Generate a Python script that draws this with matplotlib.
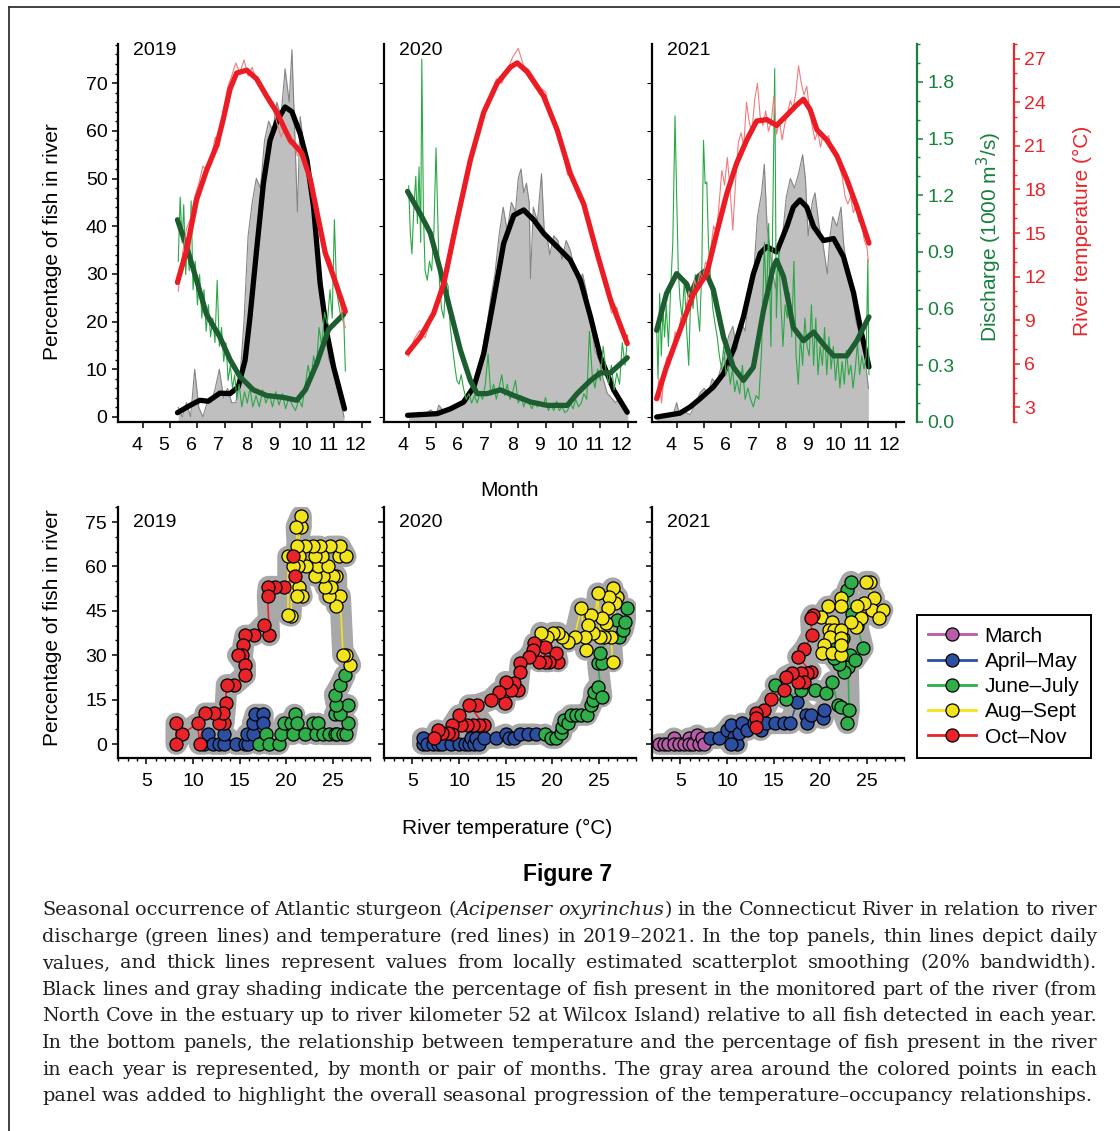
import matplotlib
matplotlib.use('Agg')
import matplotlib.pyplot as plt
from matplotlib.lines import Line2D
from matplotlib.ticker import MultipleLocator
from matplotlib.transforms import ScaledTranslation

plt.rcParams['font.family'] = ['Liberation Sans', 'DejaVu Sans']

W, H = 1120, 1131
YEARS = ['2019', '2020', '2021']

# ---------- top panels: percentage of fish, discharge, temperature by month ----------
# thick (smoothed) percentage of fish
fish_smooth_m = {
    '2019': [5.27, 5.72, 6.09, 6.39, 6.82, 7.19, 7.49, 7.74, 7.92, 8.16, 8.41, 8.65, 8.90, 9.20,
             9.45, 9.75, 10.0, 10.24, 10.48, 10.73, 10.97, 11.37],
    '2020': [3.96, 5.04, 5.52, 6.0, 6.38, 6.74, 7.1, 7.47, 7.84, 8.2, 8.57, 8.93, 9.42, 9.9,
             10.27, 10.64, 11.0, 11.49, 11.98],
    '2021': [3.27, 4.12, 4.49, 4.85, 5.34, 5.71, 6.07, 6.44, 6.8, 7.05, 7.29, 7.65, 8.02, 8.26,
             8.5, 8.75, 9.0, 9.36, 9.73, 10.09, 10.46, 10.7, 11.02],
}
fish_smooth = {
    '2019': [0.9, 2.4, 3.5, 3.3, 5.0, 4.9, 6.3, 11.9, 21, 35, 49, 58, 62, 65, 64, 59.4, 53.8,
             44, 28, 17.5, 10.5, 1.7],
    '2020': [0.35, 0.7, 1.7, 3.1, 6.3, 13.3, 24.5, 36.4, 42.3, 43.4, 41.3, 38.5, 35.7, 32.9,
             28.7, 21, 12.6, 5.6, 1.0],
    '2021': [0, 0.8, 2.1, 3.8, 6.3, 9.1, 14, 21, 30, 34.3, 35.7, 34.6, 39.9, 44, 45.5, 44,
             39.9, 37, 37.4, 33.6, 26, 18.9, 10.5],
}
# daily percentage of fish (gray)
fish_daily_m = {
    '2019': [5.30, 5.45, 5.60, 5.75, 5.90, 6.05, 6.20, 6.35, 6.50, 6.65, 6.80, 6.95, 7.10, 7.25,
             7.40, 7.55, 7.70, 7.85, 8.00, 8.15, 8.30, 8.45, 8.60, 8.75, 8.90, 9.05, 9.20, 9.35,
             9.45, 9.55, 9.65, 9.75, 9.90, 10.05, 10.20, 10.35, 10.50, 10.65, 10.80, 10.95,
             11.10, 11.25, 11.35],
    '2020': [4.0, 4.2, 4.4, 4.6, 4.8, 5.0, 5.1, 5.3, 5.5, 5.7, 5.9, 6.1, 6.3, 6.45, 6.6, 6.75,
             6.85, 7.0, 7.15, 7.3, 7.45, 7.6, 7.75, 7.9, 8.0, 8.1, 8.2, 8.3, 8.4, 8.45, 8.55, 8.7,
             8.85, 8.95, 9.05, 9.15, 9.3, 9.45, 9.6, 9.75, 9.9, 10.05, 10.2, 10.35, 10.5, 10.65,
             10.8, 10.95, 11.1, 11.25, 11.4, 11.55, 11.7, 11.85, 12.0],
    '2021': [3.27, 3.5, 3.7, 3.9, 4.0, 4.1, 4.3, 4.5, 4.7, 4.85, 5.0, 5.15, 5.3, 5.45, 5.6,
             5.75, 5.9, 6.05, 6.2, 6.35, 6.5, 6.65, 6.8, 6.95, 7.1, 7.2, 7.3, 7.45, 7.6, 7.75,
             7.9, 8.0, 8.15, 8.3, 8.45, 8.6, 8.7, 8.8, 8.95, 9.05, 9.2, 9.35, 9.5, 9.6, 9.7,
             9.85, 10.0, 10.1, 10.25, 10.4, 10.55, 10.7, 10.85, 11.0],
}
fish_daily = {
    '2019': [2, 0, 3, 0, 10, 2, 0, 3, 3, 6, 10, 4, 6, 3, 3, 8, 20, 38, 45, 50, 48, 58, 62, 60,
             66, 63, 73, 66, 77, 60, 43, 63, 56, 53, 45, 36, 28, 20, 12, 10, 6, 3, 0],
    '2020': [0, 0.5, 1, 0.5, 1.5, 0.5, 2.5, 1, 1.5, 2, 2.5, 3, 5, 7, 9, 16, 19, 25, 30, 38, 44,
             39, 45, 43, 50, 52, 47, 49, 45, 29, 44, 41, 51, 39, 38, 34, 38, 37, 33, 37, 35, 31,
             28, 30, 26, 20, 14, 12, 8, 5, 4, 3, 4, 2, 1],
    '2021': [0, 0.5, 0, 1, 3, 0.5, 1, 0.5, 3, 5, 6, 5, 8, 7, 10, 13, 17, 19, 14, 20, 18, 26,
             29, 42, 47, 53, 40, 33, 27, 34, 40, 46, 50, 48, 51, 55, 50, 38, 45, 47, 40, 36, 30,
             38, 42, 40, 44, 36, 30, 26, 20, 17, 14, 6],
}
# thick (smoothed) river temperature, deg C
temp_smooth_m = {
    '2019': [5.27, 5.6, 5.97, 6.33, 6.70, 6.94, 7.19, 7.43, 7.80, 8.16, 8.53, 8.90, 9.2, 9.38,
             9.81, 10.12, 10.42, 10.67, 10.97, 11.4],
    '2020': [3.96, 4.43, 4.91, 5.28, 5.77, 6.25, 6.74, 7.23, 7.71, 7.96, 8.32, 8.93, 9.42, 9.9,
             10.39, 10.88, 11.37, 11.98],
    '2021': [3.27, 3.63, 4.12, 4.61, 5.1, 5.46, 5.83, 6.19, 6.56, 6.92, 7.29, 7.65, 8.02, 8.38,
             8.63, 8.87, 9.12, 9.48, 9.85, 10.21, 10.58, 11.02],
}
temp_smooth = {
    '2019': [11.6, 13.8, 17.3, 19.3, 21.0, 22.8, 24.9, 26.0, 26.2, 25.6, 24.4, 23.3, 22.1,
             21.4, 20.5, 18.7, 15.9, 13.6, 12.0, 9.6],
    '2020': [6.75, 7.85, 9.46, 11.5, 15.9, 20.0, 23.3, 25.3, 26.4, 26.7, 26.1, 24.4, 22.1,
             19.1, 17.0, 13.6, 10.4, 7.4],
    '2021': [3.6, 5.8, 8.3, 10.8, 12.2, 15, 17.7, 19.8, 21.4, 22.7, 22.8, 22.4, 23.1, 23.8,
             24.2, 23.5, 22.1, 21.4, 20.3, 18.7, 16.8, 14.3],
}
# daily river temperature, deg C
temp_daily_m = {
    '2019': [5.3, 5.45, 5.6, 5.75, 5.9, 6.05, 6.2, 6.35, 6.5, 6.65, 6.8, 6.95, 7.1, 7.25, 7.4,
             7.55, 7.7, 7.85, 8.0, 8.15, 8.3, 8.45, 8.6, 8.75, 8.9, 9.05, 9.2, 9.35, 9.5, 9.65,
             9.8, 9.95, 10.1, 10.25, 10.4, 10.55, 10.7, 10.85, 11.0, 11.15, 11.3, 11.4],
    '2020': [4.0, 4.2, 4.4, 4.6, 4.8, 5.0, 5.2, 5.4, 5.6, 5.8, 6.0, 6.2, 6.4, 6.6, 6.8, 7.0,
             7.2, 7.4, 7.6, 7.8, 8.0, 8.2, 8.4, 8.6, 8.8, 9.0, 9.2, 9.4, 9.6, 9.8, 10.0, 10.2,
             10.4, 10.6, 10.8, 11.0, 11.2, 11.4, 11.6, 11.8, 12.0],
    '2021': [3.27, 3.35, 3.45, 3.55, 3.65, 3.75, 3.85, 3.95, 4.05, 4.15, 4.25, 4.35, 4.45, 4.55,
             4.65, 4.75, 4.85, 4.95, 5.05, 5.15, 5.25, 5.35, 5.45, 5.55, 5.65, 5.75, 5.85, 5.95,
             6.05, 6.15, 6.25, 6.35, 6.45, 6.55, 6.65, 6.75, 6.85, 6.95, 7.05, 7.15, 7.25, 7.35,
             7.45, 7.55, 7.65, 7.75, 7.85, 7.95, 8.05, 8.15, 8.25, 8.35, 8.45, 8.55, 8.65, 8.75,
             8.85, 8.95, 9.05, 9.15, 9.25, 9.35, 9.45, 9.55, 9.65, 9.75, 9.85, 9.95, 10.05,
             10.15, 10.25, 10.35, 10.45, 10.55, 10.65, 10.75, 10.85, 10.95, 11.0],
}
temp_daily = {
    '2019': [11.0, 13.5, 15.3, 16.0, 17.5, 18.4, 19.6, 19.3, 20.2, 21.6, 21.0, 23.5, 25.0,
             25.8, 26.7, 26.0, 26.9, 25.8, 26.4, 25.4, 25.0, 24.8, 23.9, 23.6, 22.6, 21.6, 22.3,
             21.1, 21.4, 20.3, 20.8, 19.6, 18.9, 17.5, 15.8, 15.2, 13.7, 13.2, 12.0, 11.4, 9.0,
             8.5],
    '2020': [6.5, 7.7, 8.3, 7.8, 9.0, 9.6, 11.3, 13.0, 15.0, 16.5, 18.3, 19.8, 21.4, 22.3,
             23.8, 24.2, 25.6, 25.3, 26.2, 27.1, 27.7, 26.5, 26.2, 25.6, 25.0, 24.7, 23.0, 22.5,
             20.8, 19.0, 18.9, 17.4, 17.1, 15.4, 14.2, 13.2, 11.7, 9.5, 9.9, 8.2, 7.8],
    '2021': [3.5, 5.0, 3.3, 5.5, 6.5, 5.9, 7.0, 8.2, 7.6, 9.2, 8.6, 10.0, 11.0, 10.5, 11.8,
             11.2, 12.3, 11.8, 13.0, 12.8, 14.0, 15.5, 15.0, 17.0, 19.3, 18.3, 20.2, 18.0, 15.2,
             18.5, 21.2, 21.9, 21.0, 24.0, 22.6, 22.0, 24.2, 25.3, 23.0, 22.4, 23.4, 22.0, 22.6,
             24.4, 21.8, 22.8, 21.4, 22.5, 23.3, 24.1, 23.6, 24.6, 26.5, 25.3, 24.5, 25.1, 23.5,
             22.3, 21.4, 22.0, 20.9, 21.8, 21.4, 21.7, 20.6, 20.9, 20.3, 19.5, 18.8, 17.5, 17.0,
             17.5, 16.4, 16.9, 15.8, 15.7, 14.5, 14.0, 13.0],
}
# thick (smoothed) discharge, 1000 m3/s
flow_smooth_m = {
    '2019': [5.27, 5.6, 5.97, 6.33, 6.82, 7.19, 7.55, 8.04, 8.53, 9.14, 9.63, 9.94, 10.36,
             10.79, 11.34],
    '2020': [3.96, 4.43, 4.79, 5.16, 5.52, 5.89, 6.25, 6.5, 6.86, 7.35, 7.84, 8.45, 9.06, 9.79,
             10.15, 10.64, 11.0, 11.37, 11.98],
    '2021': [3.27, 3.63, 4.0, 4.37, 4.49, 4.79, 5.04, 5.34, 5.71, 6.07, 6.44, 6.8, 7.17, 7.53,
             7.65, 7.9, 8.26, 8.63, 9.0, 9.36, 9.73, 10.21, 10.58, 11.02],
}
flow_smooth = {
    '2019': [1.07, 0.93, 0.75, 0.57, 0.45, 0.33, 0.24, 0.17, 0.14, 0.13, 0.115, 0.17, 0.31,
             0.49, 0.57],
    '2020': [1.22, 1.10, 1.0, 0.80, 0.59, 0.38, 0.22, 0.15, 0.15, 0.17, 0.14, 0.106, 0.088,
             0.088, 0.15, 0.22, 0.26, 0.26, 0.34],
    '2021': [0.485, 0.68, 0.785, 0.73, 0.67, 0.77, 0.80, 0.70, 0.45, 0.29, 0.22, 0.29, 0.59,
             0.82, 0.856, 0.77, 0.50, 0.43, 0.476, 0.41, 0.35, 0.35, 0.43, 0.556],
}
# daily discharge, 1000 m3/s
flow_daily_m = {
    '2019': [5.30, 5.37, 5.44, 5.50, 5.57, 5.63, 5.70, 5.77, 5.84, 5.92, 6.00, 6.08, 6.16, 6.24,
             6.32, 6.40, 6.48, 6.56, 6.64, 6.72, 6.80, 6.88, 6.96, 7.04, 7.12, 7.20, 7.28, 7.36,
             7.44, 7.52, 7.62, 7.72, 7.82, 7.92, 8.02, 8.14, 8.26, 8.38, 8.50, 8.62, 8.74, 8.86,
             8.98, 9.10, 9.22, 9.34, 9.46, 9.58, 9.70, 9.82, 9.94, 10.04, 10.14, 10.24, 10.34,
             10.44, 10.54, 10.64, 10.74, 10.84, 10.92, 11.00, 11.08, 11.16, 11.24, 11.32, 11.40],
    '2020': [4.00, 4.06, 4.12, 4.18, 4.26, 4.32, 4.38, 4.44, 4.48, 4.54, 4.60, 4.68, 4.76, 4.84,
             4.92, 5.00, 5.06, 5.12, 5.20, 5.28, 5.36, 5.44, 5.52, 5.60, 5.68, 5.76, 5.84, 5.92,
             6.00, 6.10, 6.20, 6.30, 6.40, 6.50, 6.60, 6.70, 6.80, 6.90, 7.00, 7.10, 7.20, 7.30,
             7.40, 7.50, 7.60, 7.70, 7.80, 7.90, 8.00, 8.10, 8.20, 8.30, 8.40, 8.50, 8.60, 8.70,
             8.80, 8.90, 9.00, 9.10, 9.20, 9.30, 9.40, 9.50, 9.60, 9.70, 9.80, 9.90, 10.00,
             10.10, 10.20, 10.30, 10.40, 10.50, 10.60, 10.70, 10.80, 10.90, 11.00, 11.10, 11.20,
             11.30, 11.40, 11.50, 11.60, 11.70, 11.80, 11.90, 12.00],
    '2021': [3.27, 3.32, 3.38, 3.44, 3.50, 3.56, 3.62, 3.70, 3.78, 3.86, 3.94, 4.00, 4.06, 4.12,
             4.20, 4.28, 4.36, 4.44, 4.52, 4.60, 4.68, 4.76, 4.84, 4.92, 4.98, 5.04, 5.10, 5.16,
             5.24, 5.32, 5.40, 5.48, 5.56, 5.64, 5.72, 5.80, 5.88, 5.96, 6.04, 6.12, 6.20, 6.30,
             6.40, 6.50, 6.60, 6.70, 6.80, 6.90, 7.00, 7.10, 7.20, 7.28, 7.36, 7.44, 7.52, 7.58,
             7.64, 7.72, 7.80, 7.88, 7.96, 8.04, 8.12, 8.20, 8.28, 8.36, 8.44, 8.52, 8.60, 8.68,
             8.76, 8.84, 8.92, 9.00, 9.08, 9.16, 9.24, 9.32, 9.40, 9.48, 9.56, 9.64, 9.72, 9.80,
             9.88, 9.96, 10.04, 10.12, 10.20, 10.28, 10.36, 10.44, 10.52, 10.60, 10.68, 10.76,
             10.84, 10.92, 10.98, 11.02],
}
flow_daily = {
    '2019': [0.85, 1.19, 0.95, 1.15, 0.78, 0.95, 0.80, 1.17, 0.70, 0.85, 0.62, 0.78, 0.55, 0.70,
             0.48, 0.62, 0.45, 0.55, 0.42, 0.75, 0.40, 0.50, 0.32, 0.42, 0.22, 0.30, 0.18, 0.25,
             0.12, 0.20, 0.08, 0.16, 0.10, 0.18, 0.08, 0.14, 0.08, 0.17, 0.10, 0.15, 0.08, 0.16,
             0.09, 0.15, 0.07, 0.13, 0.09, 0.06, 0.12, 0.08, 0.20, 0.30, 0.22, 0.35, 0.28, 0.50,
             0.40, 0.58, 0.52, 0.70, 0.55, 1.07, 0.70, 0.62, 0.55, 0.65, 0.27],
    '2020': [1.25, 1.00, 0.89, 1.10, 1.30, 1.05, 1.35, 0.95, 1.92, 1.10, 0.80, 0.75, 0.85, 0.80,
             1.00, 1.45, 1.10, 0.75, 0.60, 0.55, 0.75, 0.72, 0.50, 0.40, 0.30, 0.22, 0.20, 0.25,
             0.18, 0.12, 0.15, 0.10, 0.14, 0.10, 0.15, 0.12, 0.20, 0.36, 0.14, 0.20, 0.12, 0.18,
             0.25, 0.14, 0.20, 0.12, 0.16, 0.22, 0.10, 0.14, 0.08, 0.12, 0.10, 0.07, 0.11, 0.08,
             0.10, 0.08, 0.13, 0.06, 0.09, 0.06, 0.11, 0.06, 0.08, 0.05, 0.06, 0.10, 0.07, 0.12,
             0.08, 0.10, 0.15, 0.12, 0.48, 0.25, 0.18, 0.28, 0.22, 0.40, 0.28, 0.20, 0.30, 0.17,
             0.26, 0.20, 0.42, 0.30, 0.46],
    '2021': [0.50, 0.23, 0.68, 0.35, 0.60, 0.45, 0.62, 0.40, 0.70, 0.95, 1.62, 1.20, 0.80, 0.65,
             0.55, 0.75, 0.50, 0.30, 0.70, 0.60, 0.78, 0.60, 0.48, 0.82, 1.49, 1.26, 1.27, 0.95,
             0.75, 0.60, 0.52, 0.45, 0.35, 0.28, 0.40, 0.25, 0.30, 0.20, 0.28, 0.16, 0.22, 0.15,
             0.30, 0.12, 0.18, 0.12, 0.08, 0.14, 0.12, 0.38, 0.95, 0.62, 1.05, 0.40, 1.20, 1.87,
             0.55, 0.90, 0.65, 0.40, 0.62, 0.55, 0.68, 0.45, 0.85, 0.35, 0.20, 0.45, 0.30, 0.55,
             0.40, 0.35, 0.62, 0.30, 0.55, 0.25, 0.40, 0.30, 0.50, 0.25, 0.45, 0.28, 0.40, 0.22,
             0.35, 0.18, 0.32, 0.20, 0.38, 0.25, 0.30, 0.18, 0.28, 0.42, 0.25, 0.35, 0.28, 0.35,
             0.86, 0.25],
}

# ---------- bottom panels: temperature vs percentage of fish, by month group ----------
groups = ['March', 'April–May', 'June–July', 'Aug–Sept', 'Oct–Nov']
group_colors = ['#b65ca8', '#2d4fa2', '#2fae4a', '#f2e41c', '#e8242a']

scatter_T = {
    '2019': {
        'April–May': [11.2, 11.6, 12.1, 12.8, 13.3, 13.3, 14.6, 15.6, 15.9, 15.8, 16.4, 16.4,
                      16.7, 17.5, 17.5],
        'June–July': [17.1, 17.8, 18.2, 19.2, 19.5, 19.8, 20.5, 20.9, 20.7, 21.2, 22.0, 22.9,
                      23.2, 23.4, 24.0, 24.6, 25.2, 25.5, 26.1, 26.4, 26.6, 25.2, 25.8, 26.6,
                      25.4, 25.2, 25.8, 26.3],
        'Aug–Sept': [26.9, 26.4, 26.1, 25.8, 25.4, 25.4, 25.0, 24.6, 24.8, 24.2, 24.0, 23.1,
                     23.4, 24.5, 25.7, 26.4, 25.8, 24.7, 23.8, 23.1, 23.6, 22.9, 22.1, 22.0,
                     21.4, 21.2, 21.6, 21.6, 21.1, 21.3, 21.4, 21.7, 21.2, 20.7, 20.5, 20.2,
                     20.2],
        'Oct–Nov': [20.7, 20.9, 19.8, 18.8, 18.1, 18.0, 18.2, 17.6, 16.5, 15.6, 15.4, 15.3,
                    14.8, 15.6, 15.6, 14.4, 13.6, 13.5, 13.3, 12.8, 13.2, 12.3, 11.3, 10.7,
                    10.5, 8.8, 8.2, 8.2],
    },
    '2020': {
        'April–May': [6.1, 6.1, 6.6, 7.2, 7.7, 8.2, 9.1, 10.0, 10.6, 11.1, 11.3, 11.6, 11.8,
                      12.2, 12.7, 14.0, 15.0, 15.4, 15.9, 16.5, 17.4, 18.3],
        'June–July': [19.2, 19.9, 20.4, 21.0, 21.1, 21.3, 21.7, 22.0, 22.6, 23.1, 23.7, 24.2,
                      24.4, 24.5, 24.9, 25.3, 24.9, 25.3, 25.1, 27.0, 27.2, 27.6, 27.8, 28.0],
        'Aug–Sept': [26.5, 26.3, 27.0, 26.7, 26.5, 26.1, 26.0, 25.8, 25.6, 25.3, 25.1, 24.9,
                     24.4, 24.2, 23.8, 23.6, 23.5, 23.1, 22.4, 21.7, 21.1, 20.6, 20.1, 19.5,
                     18.8],
        'Oct–Nov': [20.6, 20.4, 19.7, 19.2, 19.2, 18.6, 18.1, 17.9, 17.5, 16.6, 16.5, 16.3,
                    15.9, 15.6, 15.0, 14.9, 14.3, 13.4, 11.9, 11.1, 12.7, 12.1, 11.5, 10.9,
                    10.2, 10.0, 9.3, 9.3, 8.8, 8.2, 7.7, 7.3],
    },
    '2021': {
        'March': [2.7, 3.2, 3.7, 4.3, 4.3, 4.8, 5.4, 5.9, 5.9, 6.4, 6.8, 7.0, 7.3, 7.5],
        'April–May': [8.2, 9.1, 10.0, 10.4, 10.7, 11.1, 10.4, 11.3, 11.6, 12.2, 12.9, 13.6,
                      14.2, 15.1, 16.1, 16.8, 17.5, 18.5, 18.6, 19.0, 20.3, 20.4],
        'June–July': [15.2, 16.3, 17.9, 19.4, 20.6, 21.3, 21.9, 22.2, 22.9, 23.1, 23.0, 22.6,
                      22.0, 21.5, 21.0, 21.8, 22.5, 23.2, 23.7, 24.6, 24.0, 23.4, 22.9, 23.3],
        'Aug–Sept': [25.3, 24.9, 25.8, 25.6, 26.7, 26.3, 24.7, 24.0, 24.4, 23.9, 23.3, 22.2,
                     22.2, 20.8, 20.1, 21.3, 20.9, 21.5, 22.2, 21.1, 22.2, 20.4, 20.2, 21.3,
                     22.2, 22.2],
        'Oct–Nov': [19.2, 19.0, 19.1, 18.3, 17.6, 19.0, 18.6, 17.9, 18.3, 17.6, 17.0, 16.3,
                    16.1, 14.7, 14.0, 13.1, 13.1, 13.1],
    },
}
scatter_P = {
    '2019': {
        'April–May': [0, 3.3, 0, 0, 0, 3.3, 0, 0, 0, 3.3, 3.3, 7, 10, 10, 7],
        'June–July': [0, 3.3, 0, 0, 3.3, 7, 7, 10, 3.3, 7, 3.3, 7, 3.3, 7, 3.3, 3.3, 3.3, 3.3,
                      3.3, 3.3, 7, 10, 10, 13.3, 13.3, 16.7, 20, 23.3],
        'Aug–Sept': [26.7, 30, 30, 50, 46.8, 56.8, 56.8, 50, 53.2, 53.2, 56.8, 56.8, 60, 60,
                     63.4, 63.4, 66.8, 66.8, 63.4, 63.4, 66.8, 66.8, 60, 66.8, 63.4, 66.8, 73.5,
                     77.1, 73.5, 60, 53.2, 50, 50, 60, 43.3, 43.6, 63.4],
        'Oct–Nov': [63.4, 56.8, 53.2, 53.2, 53.2, 50, 36.7, 40.3, 36.7, 36.7, 33.5, 30, 30,
                    26.7, 23.3, 20, 20, 13.8, 7, 7, 10.4, 10.4, 10.4, 0, 7, 3.3, 0, 7],
    },
    '2020': {
        'April–May': [0, 2, 0, 0, 0, 0, 0, 0, 0, 0, 2, 0, 2, 0, 2, 2, 3.3, 2, 2, 3.3, 3.3, 3.3],
        'June–July': [3.3, 2, 2, 3.6, 5.9, 8.1, 7, 9.8, 9.8, 9.8, 9.8, 13.2, 14.9, 17.7, 19.4,
                      16, 27.3, 27.3, 30.7, 42, 36.3, 38.6, 41.4, 45.9],
        'Aug–Sept': [27.9, 36.3, 49.8, 47.6, 52.7, 49.8, 45.9, 40.8, 36.3, 42.5, 36.3, 51, 37.4,
                     43.6, 40.3, 31.8, 36.3, 45.9, 36.3, 34.6, 36.3, 37.7, 37.7, 36.3, 37.7],
        'Oct–Nov': [27.9, 30.7, 27.9, 27.9, 32.9, 27.9, 34.1, 31.8, 29.5, 27.5, 24.5, 18.3,
                    20.5, 18.3, 21.1, 13.8, 17.7, 14.9, 13.2, 13.2, 6.4, 6.4, 6.4, 6.4, 6.4,
                    9.8, 6.4, 3.3, 3.6, 3.6, 4.7, 2],
    },
    '2021': {
        'March': [0, 0, 0, 2, 0, 0, 0, 2, 0, 0, 3, 0, 2, 0],
        'April–May': [2, 2, 4.7, 6.4, 2.5, 0, 0, 3.6, 7, 4.7, 7, 4.7, 7, 7, 7, 7, 14.1, 9.8, 7,
                      9.8, 8.7, 11.5],
        'June–July': [20, 15.4, 18.3, 18.3, 17.1, 21.1, 13.2, 12.6, 7, 11.5, 26, 24.5, 27, 29,
                      31, 34, 36, 30, 28.4, 32.4, 40, 44, 52.1, 54.9],
        'Aug–Sept': [54.9, 54.9, 49.3, 45.3, 45.3, 42.5, 47.6, 46.5, 42.5, 39.7, 41.4, 49.3,
                     46.5, 46.5, 43.1, 41.4, 38.6, 38.6, 38.6, 36.3, 35.7, 33.5, 30.7, 30.7,
                     30.1, 33.5],
        'Oct–Nov': [43.6, 42.5, 36.7, 32.1, 29.5, 24.5, 23.9, 23.9, 21.1, 21.1, 23.9, 22.8,
                    18.3, 15.4, 11.5, 10.4, 8.7, 5.9],
    },
}

caption_lines = [
    "Seasonal occurrence of Atlantic sturgeon (_Acipenser_ _oxyrinchus_) in the Connecticut River in relation to river",
    "discharge (green lines) and temperature (red lines) in 2019–2021. In the top panels, thin lines depict daily",
    "values, and thick lines represent values from locally estimated scatterplot smoothing (20% bandwidth).",
    "Black lines and gray shading indicate the percentage of fish present in the monitored part of the river (from",
    "North Cove in the estuary up to river kilometer 52 at Wilcox Island) relative to all fish detected in each year.",
    "In the bottom panels, the relationship between temperature and the percentage of fish present in the river",
    "in each year is represented, by month or pair of months. The gray area around the colored points in each",
    "panel was added to highlight the overall seasonal progression of the temperature–occupancy relationships.",
]

RED = '#ec1c24'
RED_THIN = '#f27b7b'
GREEN = '#1c5e2f'
GREEN_THIN = '#2aa845'
AX_GREEN = '#17803d'
AX_RED = '#e8252a'
FS = 14


def frac(x0, y0, x1, y1):
    return [x0 / W, 1 - y1 / H, (x1 - x0) / W, (y1 - y0) / H]


def thick(ax, x, y, color):
    ax.plot(x, y, color=color, lw=3.8, zorder=5, solid_capstyle='round',
            solid_joinstyle='round')


fig = plt.figure(figsize=(W / 100, H / 100), dpi=100)

top_left = {'2019': 118, '2020': 384, '2021': 652}
shift_left = ScaledTranslation(-6 / 100, 0, fig.dpi_scale_trans)

for yr in YEARS:
    x0 = top_left[yr]
    ax = fig.add_axes(frac(x0, 44, x0 + 252, 422))
    ax.set_xlim(3.1, 12.3)
    ax.set_ylim(-1.05, 78.2)
    ax.patch.set_visible(False)
    for s in ['top', 'right']:
        ax.spines[s].set_visible(False)
    for s in ['left', 'bottom']:
        ax.spines[s].set_linewidth(1.6)
    ax.set_xticks(range(4, 13))
    ax.tick_params(axis='x', direction='out', length=4.5, width=1.1, labelsize=FS, pad=6)
    for lab in ax.get_xticklabels():
        lab.set_transform(lab.get_transform() + shift_left)
    if yr == '2019':
        ax.set_yticks(range(0, 71, 10))
        ax.yaxis.set_minor_locator(MultipleLocator(2))
        ax.tick_params(axis='y', which='major', direction='out', length=4.5, width=1.1,
                       labelsize=FS, pad=3)
        ax.tick_params(axis='y', which='minor', direction='out', length=2.3, width=1.0)
        ax.set_ylabel('Percentage of fish in river', fontsize=15)
        ax.yaxis.set_label_coords(-56 / 252, 0.476)
    else:
        ax.tick_params(axis='y', which='both', left=False, labelleft=False)

    ax.fill_between(fish_daily_m[yr], fish_daily[yr], -1.05, color='#bfbfbf', lw=0, zorder=1)
    ax.plot(fish_daily_m[yr], fish_daily[yr], color='#858585', lw=0.8, zorder=2)
    thick(ax, fish_smooth_m[yr], fish_smooth[yr], 'black')
    ax.text(15 / 252, 0.984, yr, transform=ax.transAxes, fontsize=FS, va='center', ha='left')

    axq = ax.twinx()
    axq.set_ylim(0, 2.0)
    axq.plot(flow_daily_m[yr], flow_daily[yr], color=GREEN_THIN, lw=0.8, zorder=2)
    thick(axq, flow_smooth_m[yr], flow_smooth[yr], GREEN)
    axt = ax.twinx()
    axt.set_ylim(2, 28)
    axt.plot(temp_daily_m[yr], temp_daily[yr], color=RED_THIN, lw=0.8, zorder=2)
    thick(axt, temp_smooth_m[yr], temp_smooth[yr], RED)
    for a in (axq, axt):
        for s in a.spines.values():
            s.set_visible(False)
        a.set_yticks([])
    if yr == '2021':
        axq.spines['right'].set_visible(True)
        axq.spines['right'].set_position(('axes', 265 / 252))
        axq.spines['right'].set_color(AX_GREEN)
        axq.spines['right'].set_linewidth(1.6)
        axq.set_yticks([0, 0.3, 0.6, 0.9, 1.2, 1.5, 1.8])
        axq.set_yticklabels(['0.0', '0.3', '0.6', '0.9', '1.2', '1.5', '1.8'])
        axq.yaxis.set_minor_locator(MultipleLocator(0.1))
        axq.tick_params(axis='y', which='major', direction='out', length=4.5, width=1.1,
                        colors=AX_GREEN, labelsize=FS, pad=3)
        axq.tick_params(axis='y', which='minor', direction='out', length=2.3, width=1.0,
                        colors=AX_GREEN)
        axq.set_ylabel('Discharge (1000 m$^3$/s)', color=AX_GREEN, fontsize=15)
        axq.yaxis.set_label_coords(323 / 252, 0.49)

        axt.spines['right'].set_visible(True)
        axt.spines['right'].set_position(('axes', 362 / 252))
        axt.spines['right'].set_color(AX_RED)
        axt.spines['right'].set_linewidth(1.6)
        axt.set_yticks(range(3, 28, 3))
        axt.yaxis.set_minor_locator(MultipleLocator(1))
        axt.tick_params(axis='y', which='major', direction='out', length=4.5, width=1.1,
                        colors=AX_RED, labelsize=FS, pad=3)
        axt.tick_params(axis='y', which='minor', direction='out', length=2.3, width=1.0,
                        colors=AX_RED)
        axt.set_ylabel('River temperature (°C)', color=AX_RED, fontsize=15)
        axt.yaxis.set_label_coords(421 / 252, 0.505)

fig.text(510 / W, 1 - 490 / H, 'Month', fontsize=15, ha='center', va='center')

# bottom panels
HALO = '#a8a8a8'
for yr in YEARS:
    x0 = top_left[yr]
    ax = fig.add_axes(frac(x0, 507, x0 + 252, 758))
    ax.set_xlim(1.95, 29.0)
    ax.set_ylim(-4.7, 80.1)
    ax.patch.set_visible(False)
    for s in ['top', 'right']:
        ax.spines[s].set_visible(False)
    for s in ['left', 'bottom']:
        ax.spines[s].set_linewidth(1.6)
    ax.set_xticks([5, 10, 15, 20, 25])
    ax.xaxis.set_minor_locator(MultipleLocator(1))
    ax.set_yticks([0, 15, 30, 45, 60, 75])
    ax.yaxis.set_minor_locator(MultipleLocator(5))
    ax.tick_params(which='major', direction='out', length=4.5, width=1.1, labelsize=FS)
    ax.tick_params(which='minor', direction='out', length=2.3, width=1.0)
    ax.tick_params(axis='x', pad=6)
    if yr == '2019':
        ax.set_ylabel('Percentage of fish in river', fontsize=15)
        ax.yaxis.set_label_coords(-56 / 252, 0.52)
    else:
        ax.tick_params(axis='y', labelleft=False)
    ax.text(15 / 252, 0.94, yr, transform=ax.transAxes, fontsize=FS, va='center', ha='left')

    present = [g for g in groups if g in scatter_T[yr]]
    for g in present:
        ax.plot(scatter_T[yr][g], scatter_P[yr][g], color=HALO, lw=15.5, zorder=1,
                solid_capstyle='round', solid_joinstyle='round')
    for g in present:
        c = group_colors[groups.index(g)]
        ax.plot(scatter_T[yr][g], scatter_P[yr][g], color=c, lw=1.2, zorder=2)
    for g in present:
        c = group_colors[groups.index(g)]
        ax.plot(scatter_T[yr][g], scatter_P[yr][g], 'o', ms=9.4, mfc=c, mec='black',
                mew=0.9, zorder=3)

fig.text(507 / W, 1 - 828 / H, 'River temperature (°C)', fontsize=15, ha='center',
         va='center')

handles = [Line2D([], [], color=c, lw=2, marker='o', ms=9.4, mfc=c, mec='black', mew=0.9)
           for c in group_colors]
fig.legend(handles, groups, loc='lower left', bbox_to_anchor=(917 / W, 1 - 758 / H),
           bbox_transform=fig.transFigure, fontsize=15, frameon=True, fancybox=False,
           edgecolor='black', framealpha=1, handlelength=2.3, handletextpad=0.4,
           labelspacing=0.3, borderpad=0.55, borderaxespad=0)
fig.legends[0].get_frame().set_linewidth(1.4)

# outer frame (top and left edges)
fig.add_artist(Line2D([9 / W, 1], [1 - 7 / H, 1 - 7 / H], color='#333333', lw=1.3))
fig.add_artist(Line2D([9 / W, 9 / W], [0, 1 - 7 / H], color='#333333', lw=1.3))

fig.text(568 / W, 1 - 875 / H, 'Figure 7', fontsize=16.5, fontweight='bold', ha='center',
         va='center')

# caption, justified between x=42 and x=1097
renderer = fig.canvas.get_renderer()
serif = ['DejaVu Serif']
probe = fig.text(0, 0, caption_lines[-1], fontsize=10, family=serif)
size = 10 * 1046 / probe.get_window_extent(renderer).width
probe.remove()
t1 = fig.text(0, 0, 'a a', fontsize=size, family=serif)
t2 = fig.text(0, 0, 'aa', fontsize=size, family=serif)
space = t1.get_window_extent(renderer).width - t2.get_window_extent(renderer).width
t1.remove()
t2.remove()
for i, line in enumerate(caption_lines):
    y = 1 - (910 + i * 26.6) / H
    words = []
    for word in line.split(' '):
        parts = word.split('_')
        pieces = []
        for k, part in enumerate(parts):
            if part:
                pieces.append(fig.text(0, y, part, fontsize=size, family=serif, va='center',
                                       color='#231f20',
                                       style='italic' if k % 2 else 'normal'))
        words.append(pieces)
    widths = [[p.get_window_extent(renderer).width for p in ps] for ps in words]
    total = sum(sum(w) for w in widths)
    if i == len(caption_lines) - 1:
        gap = space
    else:
        gap = (1097 - 42 - total) / (len(words) - 1)
    x = 42
    for ps, ws in zip(words, widths):
        for p, w in zip(ps, ws):
            p.set_x(x / W)
            x += w
        x += gap

fig.savefig('out.png', dpi=100)
